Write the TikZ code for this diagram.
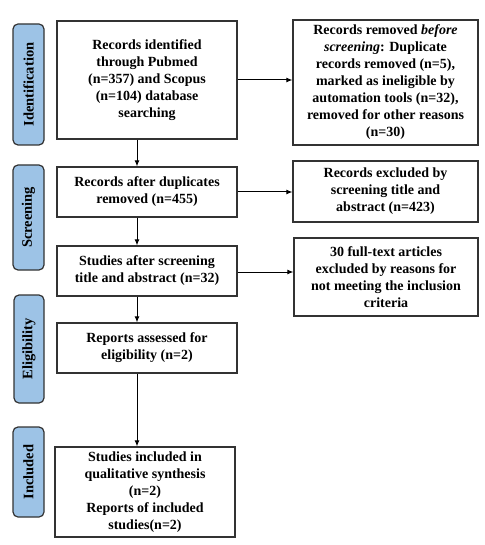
\documentclass[tikz,border=0pt]{standalone}
\usepackage{fontspec}
\setmainfont{Liberation Serif}
\usetikzlibrary{arrows.meta}
\definecolor{lblue}{HTML}{9DC3E6}
\definecolor{bord}{HTML}{333333}
\begin{document}
\begin{tikzpicture}[x=1pt,y=-1pt,
  box/.style={draw=bord,line width=1.2pt,fill=white,align=center,inner sep=2pt,
    font=\fontsize{14}{17}\selectfont\bfseries},
  phase/.style={draw=bord,line width=1.2pt,fill=lblue,rounded corners=5pt,inner sep=0pt},
  phasetext/.style={rotate=90,font=\fontsize{14.5}{16}\selectfont\bfseries},
  arr/.style={line width=1pt,-{Latex[length=6pt,width=5pt]}}]
\useasboundingbox[fill=white] (0,0) rectangle (484,545);
% phase labels
\node[phase,minimum width=31pt,minimum height=121pt] (pid) at (28.5,84.5) {};
\node[phasetext] (tid) at (pid.center) {Identification};
\node[phase,minimum width=31pt,minimum height=105pt] (psc) at (28.5,217.5) {};
\node[phasetext] (tsc) at (psc.center) {Screening};
\node[phase,minimum width=30pt,minimum height=108pt] (pel) at (29,349) {};
\node[phasetext] (tel) at (pel.center) {Eligibility};
\node[phase,minimum width=31pt,minimum height=90pt] (pin) at (28.5,472) {};
\node[phasetext] (tin) at (pin.center) {Included};
% main boxes
\node[box,minimum width=180pt,minimum height=118pt] (b1) at (147,80)
  {Records identified\\through Pubmed\\(n=357) and Scopus\\(n=104) database\\searching};
\node[box,minimum width=180pt,minimum height=50pt] (b2) at (147,192)
  {Records after duplicates\\removed (n=455)};
\node[box,minimum width=180pt,minimum height=50pt] (b3) at (147,271)
  {Studies after screening\\title and abstract (n=32)};
\node[box,minimum width=180pt,minimum height=50pt] (b4) at (147,348)
  {Reports assessed for\\eligibility (n=2)};
\node[box,minimum width=180pt,minimum height=90pt] (b5) at (145,492)
  {Studies included in\\qualitative synthesis\\(n=2)\\Reports of included\\studies(n=2)};
% right boxes
\node[box,minimum width=185pt,minimum height=125pt] (r1) at (385.5,82.5)
  {Records removed \textit{before}\\\textit{screening}: Duplicate\\records removed (n=5),\\marked as ineligible by\\automation tools (n=32),\\removed for other reasons\\(n=30)};
\node[box,minimum width=185pt,minimum height=61pt] (r2) at (385.5,191.5)
  {Records excluded by\\screening title and\\abstract (n=423)};
\node[box,minimum width=184pt,minimum height=78pt] (r3) at (386,277)
  {30 full-text articles\\excluded by reasons for\\not meeting the inclusion\\criteria};
% horizontal arrows
\draw[arr] (b1.east) -- (b1.east -| r1.west);
\draw[arr] (b2.east) -- (b2.east -| r2.west);
\draw[arr] ([yshift=-1pt]b3.east) -- ([yshift=-1pt]b3.east -| r3.west);
% vertical arrows
\draw[arr] ([xshift=-10pt]b1.south) -- ([xshift=-10pt]b1.south |- b2.north);
\draw[arr] ([xshift=-10pt]b2.south) -- ([xshift=-10pt]b2.south |- b3.north);
\draw[arr] ([xshift=-10pt]b3.south) -- ([xshift=-10pt]b3.south |- b4.north);
\draw[arr] ([xshift=-10pt]b4.south) -- ([xshift=-10pt]b4.south |- b5.north);
\end{tikzpicture}
\end{document}
